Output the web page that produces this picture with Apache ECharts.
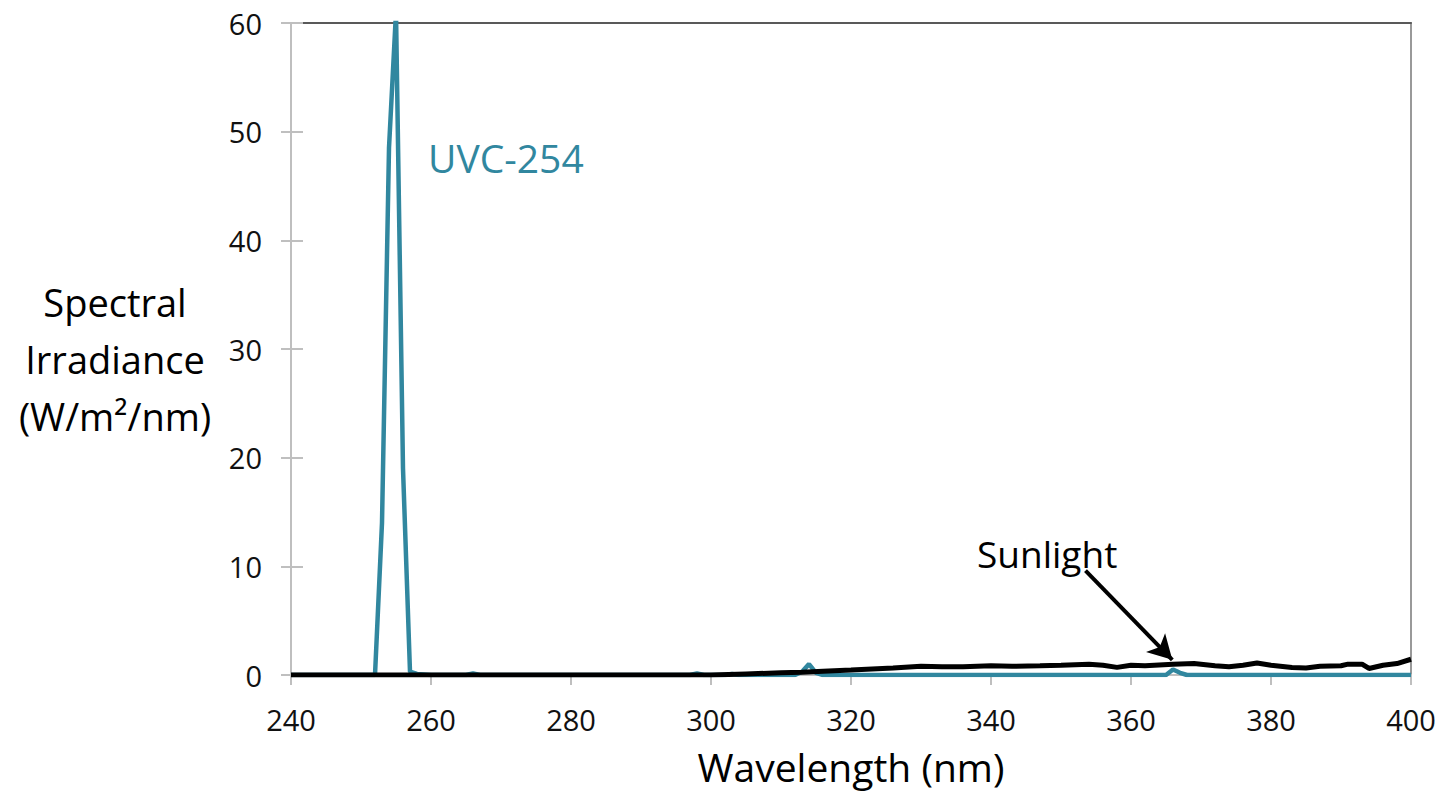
<!DOCTYPE html>
<html>
<head>
<meta charset="utf-8">
<script src="https://cdn.jsdelivr.net/npm/echarts@6/dist/echarts.min.js"></script>
<style>html,body{margin:0;padding:0;background:#fff;overflow:hidden}#chart{width:1441px;height:792px}</style>
</head>
<body>
<div id="chart"></div>
<script>
// Wavelength (nm) / spectral irradiance (W/m²/nm)
const uvcWavelengths = [240, 252, 253, 254, 255, 256, 257, 258, 260, 265, 266, 267, 297, 298, 299, 302, 303, 304, 312, 313, 314, 315, 316, 365, 366, 367, 368, 400];
const uvcValues      = [0,   0,   14,  48.5, 61,  19,  0.3, 0.1, 0,   0,   0.15, 0,  0,   0.15, 0,   0,   0.1, 0,   0,   0.3, 1.0, 0.2, 0,   0,   0.5, 0.2, 0,   0];
const sunWavelengths = [240, 300, 305, 310, 313, 316, 320, 323, 326, 330, 333, 336, 340, 343, 347, 350, 354, 356, 358, 360, 362, 366, 369, 372, 374, 376, 378, 380, 383, 385, 387, 390, 391, 393, 394, 396, 398, 400];
const sunValues      = [0,   0,   0.1, 0.2, 0.25, 0.35, 0.45, 0.55, 0.65, 0.8, 0.75, 0.75, 0.85, 0.8, 0.85, 0.9, 1.0, 0.9, 0.7, 0.9, 0.85, 1.0, 1.05, 0.85, 0.75, 0.9, 1.1, 0.9, 0.7, 0.65, 0.8, 0.85, 1.0, 1.0, 0.6, 0.9, 1.05, 1.45];
const xTicks = [240, 260, 280, 300, 320, 340, 360, 380, 400];
const yTicks = [0, 10, 20, 30, 40, 50, 60];
const xTitle = 'Wavelength (nm)';
const yTitleLines = ['Spectral', 'Irradiance', '(W/m²/nm)'];

const FONT = "'Open Sans', 'Noto Sans', sans-serif";
const TEAL = '#31879f';
const chart = echarts.init(document.getElementById('chart'), null, {renderer: 'svg', width: 1441, height: 792});

const pairs = (xs, ys) => xs.map((x, i) => [x, ys[i]]);

chart.setOption({
  animation: false,
  grid: {left: 291, top: 23, right: 30, bottom: 117, show: false, containLabel: false, outerBoundsMode: 'none'},
  xAxis: [{
    type: 'value', min: xTicks[0], max: xTicks[xTicks.length - 1], interval: 20,
    axisLine: {show: true, lineStyle: {color: '#bfbfbf', width: 2}},
    axisTick: {show: true, inside: false, length: 10, lineStyle: {color: '#bfbfbf', width: 2}},
    axisLabel: {fontSize: 29, color: '#111', fontFamily: FONT, margin: 30},
    splitLine: {show: false}
  }, {
    type: 'value', position: 'top', min: 240, max: 400,
    axisLine: {show: true, onZero: false, lineStyle: {color: '#595959', width: 2}},
    axisTick: {show: false}, axisLabel: {show: false}, splitLine: {show: false}
  }],
  yAxis: [{
    type: 'value', min: yTicks[0], max: yTicks[yTicks.length - 1], interval: 10,
    axisLine: {show: true, lineStyle: {color: '#bfbfbf', width: 2}},
    axisTick: {show: true, inside: false, length: 10, lineStyle: {color: '#bfbfbf', width: 2}},
    axisLabel: {fontSize: 29, color: '#111', fontFamily: FONT, margin: 29},
    splitLine: {show: false}
  }, {
    type: 'value', position: 'left', min: 0, max: 60, interval: 10,
    axisLine: {show: false},
    axisTick: {show: true, inside: true, length: 12, lineStyle: {color: '#bfbfbf', width: 2}},
    axisLabel: {show: false}, splitLine: {show: false}
  }, {
    type: 'value', position: 'right', min: 0, max: 60,
    axisLine: {show: true, onZero: false, lineStyle: {color: '#999999', width: 2}},
    axisTick: {show: false}, axisLabel: {show: false}, splitLine: {show: false}
  }],
  series: [{
    name: 'UVC-254', type: 'line', data: pairs(uvcWavelengths, uvcValues),
    showSymbol: false, symbol: 'none', clip: true,
    lineStyle: {color: TEAL, width: 4.5}, z: 2
  }, {
    name: 'Sunlight', type: 'line', data: pairs(sunWavelengths, sunValues),
    showSymbol: false, symbol: 'none', clip: true,
    lineStyle: {color: '#000', width: 5}, z: 3,
    markLine: {
      silent: true, symbol: ['none', 'arrow'], symbolSize: [20, 24],
      lineStyle: {color: '#000', width: 4, type: 'solid'},
      label: {show: false},
      data: [[{coord: [353.5, 9.6]}, {coord: [365.9, 1.4]}]]
    }
  }],
  graphic: [
    {type: 'text', x: 428, y: 157, style: {text: 'UVC-254', fontSize: 39, fill: TEAL, fontFamily: FONT, verticalAlign: 'middle'}},
    {type: 'text', x: 977, y: 553, style: {text: 'Sunlight', fontSize: 37, fill: '#000', fontFamily: FONT, verticalAlign: 'middle'}},
    {type: 'text', x: 851, y: 766, style: {text: xTitle, fontSize: 39, fill: '#000', fontFamily: FONT, align: 'center', verticalAlign: 'middle'}}
  ].concat(yTitleLines.map((t, i) => ({
    type: 'text', x: 115, y: 302 + i * 57,
    style: {text: t, fontSize: 38, fill: '#000', fontFamily: FONT, align: 'center', verticalAlign: 'middle'}
  })))
});
</script>
</body>
</html>
